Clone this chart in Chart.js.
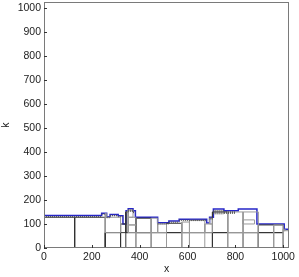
<!DOCTYPE html>
<html>
<head>
<meta charset="utf-8">
<script src="https://cdn.jsdelivr.net/npm/chart.js@4"></script>
<style>
  html, body { margin: 0; padding: 0; background: #fff; }
  canvas { display: block; }
</style>
</head>
<body>
<canvas id="treeChart" width="299" height="277"></canvas>
<script>
// ---- data ----
const xTicks = [0, 200, 400, 600, 800, 1000];
const yTicks = [0, 100, 200, 300, 400, 500, 600, 700, 800, 900, 1000];

// skyline k(x): breakpoints and the level on each step
const skyX = [0, 241, 262, 276, 310, 330, 343, 352, 372, 382, 475, 522, 565, 680, 692, 708, 752, 812, 890, 1004, 1024];
const skyK = [135, 145, 130, 139, 134, 100, 155, 163, 155, 128, 105, 112, 120, 104, 128, 162, 155, 162, 100, 78];

// boxes [x0, x1, k0, k1]
const darkBoxes = [
    [0, 128, 0, 128], [128, 256, 0, 128], [256, 512, 0, 64], [512, 704, 0, 64],
    [704, 896, 0, 64], [896, 1000, 0, 64], [320, 342, 0, 100], [384, 448, 64, 124],
    [512, 576, 64, 103], [704, 768, 64, 150], [896, 1000, 64, 96], [342, 352, 64, 150]
];
const lightBoxes = [
    [256, 320, 64, 128], [256, 262, 128, 143], [384, 448, 0, 64], [352, 384, 64, 96],
    [352, 384, 96, 128], [352, 372, 128, 158], [448, 512, 0, 64], [448, 475, 64, 124],
    [475, 512, 64, 100], [576, 608, 0, 64], [608, 672, 0, 64], [576, 608, 64, 108],
    [608, 672, 64, 115], [672, 704, 64, 100], [692, 704, 100, 124], [768, 832, 0, 64],
    [832, 896, 0, 64], [768, 832, 64, 150], [832, 896, 64, 150], [832, 880, 100, 117],
    [960, 1000, 0, 96], [1000, 1024, 0, 72], [1000, 1008, 72, 78]
];
// strips of tiny cells just under the skyline [x0, x1, k0, k1]
const bands = [
    [0, 241, 127, 133], [241, 256, 138, 143], [262, 276, 124, 129], [276, 310, 132, 138],
    [310, 330, 128, 133], [343, 352, 145, 153], [352, 372, 150, 160], [372, 382, 145, 153],
    [475, 522, 98, 103], [522, 565, 105, 110], [565, 680, 112, 118], [692, 708, 118, 126],
    [708, 752, 140, 158], [752, 800, 142, 153]
];

// ---- build datasets ----
function boxPath(list) {
    const pts = [];
    list.forEach(b => {
        pts.push({x: b[0], y: b[2]}, {x: b[1], y: b[2]}, {x: b[1], y: b[3]},
                 {x: b[0], y: b[3]}, {x: b[0], y: b[2]}, {x: b[0], y: null});
    });
    return pts;
}

const skyPts = [];
skyK.forEach((k, i) => {
    skyPts.push({x: skyX[i], y: k}, {x: skyX[i + 1], y: k});
});

const datasets = [];

bands.forEach(b => {
    datasets.push({
        data: [{x: b[0], y: (b[2] + b[3]) / 2}, {x: b[1], y: (b[2] + b[3]) / 2}],
        showLine: true,
        pointRadius: 0,
        borderColor: '#555',
        borderDash: [1, 1],
        borderWidth: c => {
            const ys = c.chart.scales.y;
            return Math.max(1, Math.abs(ys.getPixelForValue(b[2]) - ys.getPixelForValue(b[3])));
        }
    });
});

datasets.push({
    data: boxPath(lightBoxes), showLine: true, spanGaps: false,
    pointRadius: 0, borderColor: '#9a9a9a', borderWidth: 1
});
datasets.push({
    data: boxPath(darkBoxes), showLine: true, spanGaps: false,
    pointRadius: 0, borderColor: '#333', borderWidth: 1
});
datasets.push({
    data: skyPts, showLine: true, pointRadius: 0,
    borderColor: '#2626c8', borderWidth: 1.5
});

// cadre + graduations intérieures
const frame = {
    id: 'frame',
    afterDatasetsDraw(chart) {
        const a = chart.chartArea, c = chart.ctx;
        const xs = chart.scales.x, ys = chart.scales.y;
        c.save();
        c.strokeStyle = '#7a7a7a';
        c.lineWidth = 1;
        c.strokeRect(a.left + 0.5, a.top + 0.5, a.right - a.left - 1, a.bottom - a.top - 1);
        c.strokeStyle = '#333';
        c.beginPath();
        xTicks.forEach(v => {
            const p = Math.round(xs.getPixelForValue(v)) + 0.5;
            c.moveTo(p, a.bottom); c.lineTo(p, a.bottom - 3);
        });
        yTicks.forEach(v => {
            const p = Math.round(ys.getPixelForValue(v)) + 0.5;
            c.moveTo(a.left, p); c.lineTo(a.left + 3, p);
        });
        c.stroke();
        c.restore();
    }
};

const font = {family: 'Liberation Sans, Arial, sans-serif', size: 10.5};

new Chart(document.getElementById('treeChart').getContext('2d'), {
    type: 'scatter',
    data: {datasets: datasets},
    options: {
        responsive: false,
        animation: false,
        layout: {padding: {top: 2, right: 10, left: 0, bottom: 0}},
        plugins: {legend: {display: false}, tooltip: {enabled: false}},
        scales: {
            x: {
                type: 'linear', min: 0, max: 1024,
                afterBuildTicks: s => { s.ticks = xTicks.map(v => ({value: v})); },
                afterFit: s => { s.height = 29; s.paddingLeft = 0; s.paddingRight = 0; },
                grid: {display: false, drawTicks: false, tickLength: 0},
                border: {display: false},
                ticks: {font: font, color: '#222', padding: 3, maxRotation: 0, callback: v => String(v)},
                title: {display: true, text: 'x', font: font, color: '#222', padding: {top: 0, bottom: 2}}
            },
            y: {
                type: 'linear', min: 0, max: 1024,
                afterBuildTicks: s => { s.ticks = yTicks.map(v => ({value: v})); },
                afterFit: s => { s.width = 44; s.paddingTop = 0; s.paddingBottom = 0; },
                grid: {display: false, drawTicks: false, tickLength: 0},
                border: {display: false},
                ticks: {font: font, color: '#222', padding: 3, callback: v => String(v)},
                title: {display: true, text: 'k', font: font, color: '#222', padding: {top: 0, bottom: 0}}
            }
        }
    },
    plugins: [frame]
});
</script>
</body>
</html>
